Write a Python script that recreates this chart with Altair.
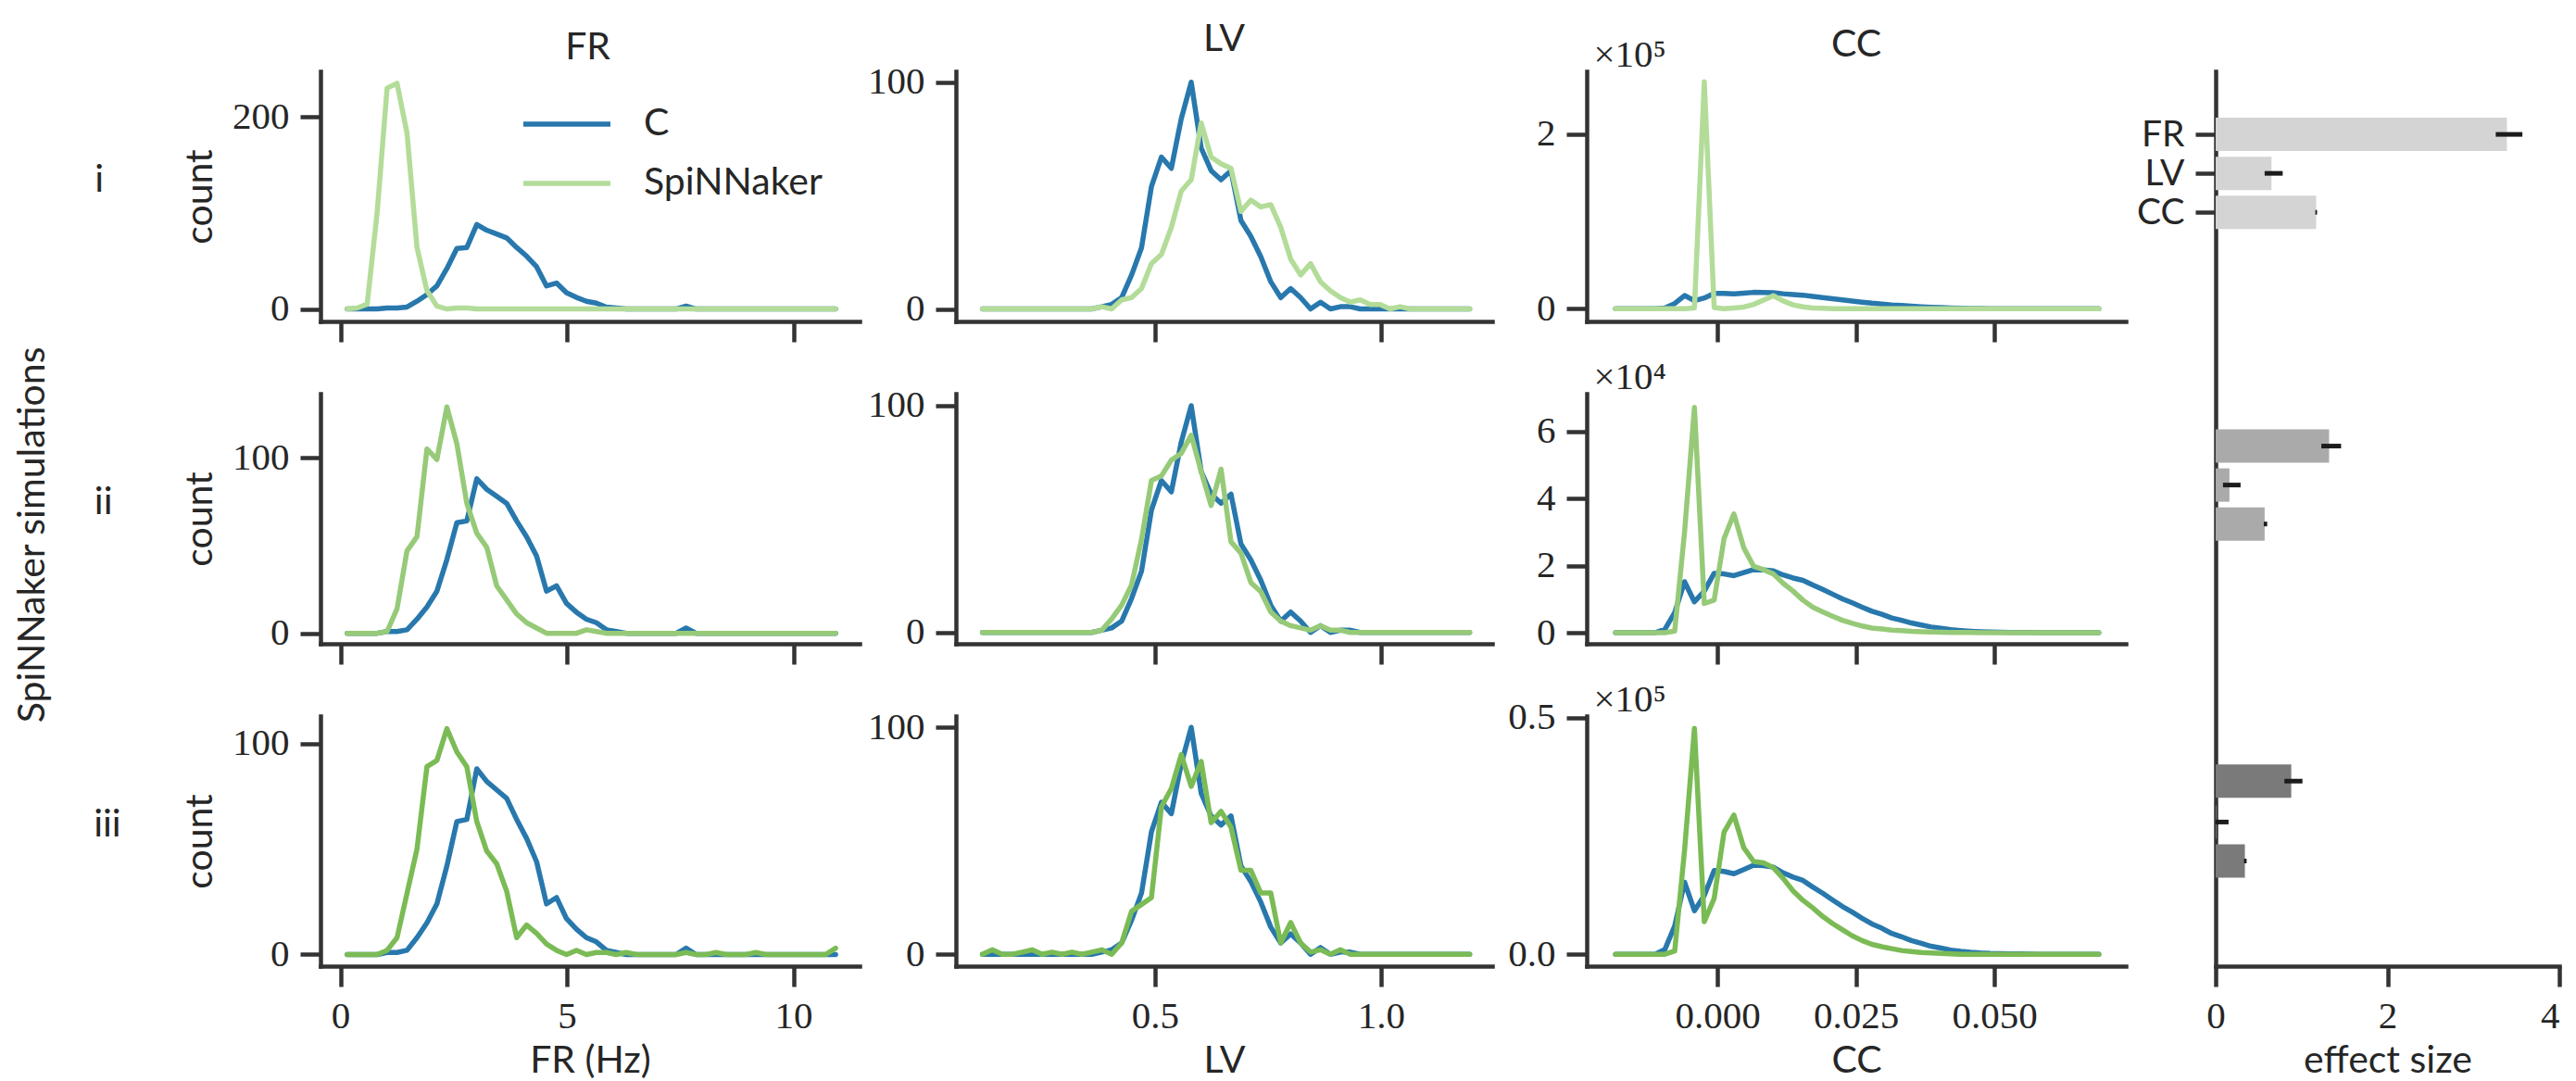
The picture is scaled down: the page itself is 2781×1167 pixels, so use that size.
import altair as alt
import pandas as pd

# ---------------- data ----------------
ROWS = ["i", "ii", "iii"]

FR_X = [0.15, 0.37, 0.59, 0.81, 1.03, 1.25, 1.47, 1.69, 1.91, 2.13, 2.35, 2.57, 2.79, 3.01, 3.23,
        3.45, 3.67, 3.89, 4.11, 4.33, 4.55, 4.77, 4.99, 5.21, 5.43, 5.65, 5.87, 6.09, 6.31, 6.53,
        6.75, 6.97, 7.19, 7.41, 7.63, 7.85, 8.07, 8.29, 8.51, 8.73, 8.95, 9.17, 9.39, 9.61, 9.83,
        10.05, 10.27, 10.49, 10.71, 10.93]
FR_C = [0, 0, 0, 0, 1, 1, 2, 8, 15, 24, 42, 63, 64, 88, 82, 78, 74, 64, 55, 44, 24, 27, 17, 12, 8,
        6, 2, 1, 0, 0, 0, 0, 0, 0, 3, 0, 0, 0, 0, 0, 0, 0, 0, 0, 0, 0, 0, 0, 0, 0]
FR_S_I = [0, 1, 5, 100, 230, 235, 183, 64, 19, 3, 0, 1, 1, 0, 0, 0, 0, 0, 0, 0, 0, 0, 0, 0, 0,
          0, 0, 0, 0, 0, 0, 0, 0, 0, 0, 0, 0, 0, 0, 0, 0, 0, 0, 0, 0, 0, 0, 0, 0, 0]
FR_S_II = [0, 0, 0, 0, 1, 14, 47, 55, 105, 99, 129, 108, 74, 57, 49, 27, 19, 11, 6, 3, 0, 0, 0, 0, 2,
           1, 0, 0, 0, 0, 0, 0, 0, 0, 0, 0, 0, 0, 0, 0, 0, 0, 0, 0, 0, 0, 0, 0, 0, 0]
FR_S_III = [0, 0, 0, 0, 2, 8, 29, 50, 89, 92, 107, 96, 89, 63, 49, 43, 30, 8, 14, 10, 5, 2, 0, 2, 0,
            1, 1, 0, 1, 0, 0, 0, 0, 0, 1, 0, 0, 1, 0, 0, 0, 1, 0, 0, 0, 0, 0, 0, 0, 3]

LV_X = [0.118, 0.140, 0.162, 0.184, 0.206, 0.228, 0.250, 0.272, 0.294, 0.316, 0.338, 0.360, 0.382,
        0.404, 0.426, 0.448, 0.470, 0.492, 0.514, 0.536, 0.558, 0.580, 0.602, 0.624, 0.646, 0.668,
        0.690, 0.712, 0.734, 0.756, 0.778, 0.800, 0.822, 0.844, 0.866, 0.888, 0.910, 0.932, 0.954,
        0.976, 0.998, 1.020, 1.042, 1.064, 1.086, 1.108, 1.130, 1.152, 1.174, 1.196]
LV_C = [0, 0, 0, 0, 0, 0, 0, 0, 0, 0, 0, 0, 1, 2, 5, 15, 27, 54, 67, 62, 84, 100, 71, 61, 57, 61,
        39, 32, 23, 12, 5, 9, 5, 0, 3, 0, 1, 1, 0, 0, 0, 0, 0, 0, 0, 0, 0, 0, 0, 0]
LV_S_I = [0, 0, 0, 0, 0, 0, 0, 0, 0, 0, 0, 0, 1, 0, 4, 5, 9, 20, 24, 36, 52, 57, 82, 67, 64, 62,
          43, 48, 45, 46, 36, 22, 15, 20, 12, 8, 5, 3, 4, 2, 2, 0, 1, 0, 0, 0, 0, 0, 0, 0]
LV_S_II = [0, 0, 0, 0, 0, 0, 0, 0, 0, 0, 0, 0, 1, 6, 12, 21, 41, 67, 69, 76, 79, 87, 71, 56, 72, 40,
           35, 22, 18, 9, 5, 3, 2, 1, 3, 1, 1, 0, 0, 0, 0, 0, 0, 0, 0, 0, 0, 0, 0, 0]
LV_S_III = [0, 2, 0, 0, 1, 2, 0, 1, 0, 1, 0, 1, 2, 0, 5, 19, 22, 25, 65, 73, 88, 74, 85, 58, 63, 56,
            37, 37, 27, 27, 5, 14, 5, 1, 2, 0, 2, 0, 0, 0, 0, 0, 0, 0, 0, 0, 0, 0, 0, 0]

CC_X = [-0.01840, -0.01662, -0.01484, -0.01306, -0.01128, -0.00950, -0.00772, -0.00594, -0.00416,
        -0.00238, -0.00060, 0.00118, 0.00296, 0.00474, 0.00652, 0.00830, 0.01008, 0.01186, 0.01364,
        0.01542, 0.01720, 0.01898, 0.02076, 0.02254, 0.02432, 0.02610, 0.02788, 0.02966, 0.03144,
        0.03322, 0.03500, 0.03678, 0.03856, 0.04034, 0.04212, 0.04390, 0.04568, 0.04746, 0.04924,
        0.05102, 0.05280, 0.05458, 0.05636, 0.05814, 0.05992, 0.06170, 0.06348, 0.06526, 0.06704,
        0.06882]
# counts in units of 1e4
CC_C = [0, 0, 0, 0, 0, 0.1, 0.6, 1.52, 0.92, 1.24, 1.77, 1.75, 1.70, 1.79, 1.88, 1.87, 1.84, 1.72,
        1.63, 1.56, 1.42, 1.29, 1.15, 1.01, 0.89, 0.76, 0.64, 0.55, 0.44, 0.37, 0.29, 0.23, 0.17,
        0.13, 0.09, 0.065, 0.045, 0.03, 0.02, 0.015, 0.01, 0.008, 0.005, 0, 0, 0, 0, 0, 0, 0]
CC_S_I = [0, 0, 0, 0, 0, 0, 0, 0, 0.1, 26, 0.15, 0, 0.1, 0.2, 0.5, 1.0, 1.5, 0.9, 0.45, 0.22, 0.1,
          0.05, 0.02, 0, 0, 0, 0, 0, 0, 0, 0, 0, 0, 0, 0, 0, 0, 0, 0, 0, 0, 0, 0, 0, 0, 0, 0, 0, 0, 0]
CC_S_II = [0, 0, 0, 0, 0, 0, 0.05, 3.0, 6.71, 0.87, 0.97, 2.8, 3.54, 2.53, 1.98, 1.88, 1.75, 1.47,
           1.24, 0.97, 0.76, 0.62, 0.49, 0.37, 0.28, 0.2, 0.14, 0.11, 0.08, 0.06, 0.04, 0.03, 0.02,
           0.015, 0.01, 0.008, 0.005, 0, 0, 0, 0, 0, 0, 0, 0, 0, 0, 0, 0, 0]
CC_S_III = [0, 0, 0, 0, 0, 0, 0.07, 2.2, 4.77, 0.69, 1.18, 2.58, 2.94, 2.25, 1.96, 1.93, 1.83, 1.6,
            1.34, 1.14, 0.98, 0.8, 0.65, 0.52, 0.39, 0.29, 0.21, 0.16, 0.12, 0.08, 0.06, 0.04, 0.03,
            0.02, 0.01, 0, 0, 0, 0, 0, 0, 0, 0, 0, 0, 0, 0, 0, 0, 0]
CC_DIV = [10, 1, 10]            # 1e4-units -> axis units (x1e5, x1e4, x1e5)
CC_EXP = ["×10⁵", "×10⁴", "×10⁵"]

BAR_ROW = ["i", "i", "i", "ii", "ii", "ii", "iii", "iii", "iii"]
BAR_METRIC = ["FR", "LV", "CC", "FR", "LV", "CC", "FR", "LV", "CC"]
BAR_POS = [1.5, 2.5, 3.5, 9.5, 10.5, 11.5, 18.1, 19.15, 20.15]
BAR_VALUE = [3.39, 0.65, 1.17, 1.32, 0.16, 0.57, 0.88, 0.01, 0.34]
BAR_LO = [3.26, 0.57, 1.16, 1.23, 0.085, 0.56, 0.80, 0.0, 0.33]
BAR_HI = [3.57, 0.78, 1.18, 1.46, 0.29, 0.60, 1.01, 0.15, 0.36]

# ---------------- style ----------------
BLUE = "#2878ad"
GREENS = ["#b3dc99", "#97ca78", "#7bbb55"]
BAR_COLORS = ["#d4d4d4", "#aaaaaa", "#7a7a7a"]
TEXT = "#262626"
AXC = "#333333"
SANS = "Lato"
SERIF = "Liberation Serif"
FS = 41
W, H, VS = 582, 270, 78
LW = 5.5


def line_panel(xs, c, s, green, xdom, ydom, xvals, xfmt, yvals, yfmt, bottom, xtitle,
               yaxis_kw, legend=None, title=None, width=W):
    df = pd.DataFrame({
        "x": list(xs) + list(xs),
        "y": list(c) + list(s),
        "series": ["C"] * len(xs) + ["SpiNNaker"] * len(xs),
    })
    if bottom:
        xaxis = alt.Axis(values=xvals, format=xfmt, title=xtitle, titlePadding=8)
    else:
        xaxis = alt.Axis(values=xvals, labels=False, title=None)
    yaxis = alt.Axis(values=yvals, format=yfmt, **yaxis_kw)
    ch = alt.Chart(df).mark_line(strokeWidth=LW, strokeCap="round", strokeJoin="round").encode(
        x=alt.X("x:Q", scale=alt.Scale(domain=xdom, nice=False, zero=False), axis=xaxis),
        y=alt.Y("y:Q", scale=alt.Scale(domain=ydom, nice=False, zero=False), axis=yaxis),
        color=alt.Color("series:N",
                        scale=alt.Scale(domain=["C", "SpiNNaker"], range=[BLUE, green]),
                        legend=legend),
    ).properties(width=width, height=H)
    if title is not None:
        ch = ch.properties(title=title)
    return ch


def indep(ch):
    return ch.resolve_scale(x="independent", y="independent", color="independent")


# ---------- FR column ----------
FR_S = [FR_S_I, FR_S_II, FR_S_III]
FR_YDOM = [[-13, 247.5], [-6, 136.5], [-5.5, 113]]
FR_YVALS = [[0, 200], [0, 100], [0, 100]]
ROW_OFF = [83.3, 74.0, 64.8]

legend_fr = alt.Legend(title=None, orient="none", legendX=245.5, legendY=36.5,
                       symbolType="M-4.7,0L4.7,0", symbolSize=400, symbolStrokeWidth=LW,
                       labelFont=SANS, labelFontSize=FS, labelColor=TEXT, labelOffset=62.5,
                       labelLimit=500, rowPadding=22, padding=0)

fr_panels = []
for r in range(3):
    t = alt.TitleParams(text=ROWS[r], orient="left", angle=0, align="left", baseline="middle",
                        anchor="middle", frame="group", offset=ROW_OFF[r], dy=-17,
                        font=SANS, fontSize=FS, fontWeight="normal", color=TEXT)
    fr_panels.append(line_panel(
        FR_X, FR_C, FR_S[r], GREENS[r], [-0.44, 11.46], FR_YDOM[r], [0, 5, 10], "d",
        FR_YVALS[r], "d", r == 2, "FR (Hz)", dict(title="count", titlePadding=13),
        legend=legend_fr if r == 0 else None, title=t))

fr_col = indep(alt.vconcat(*fr_panels, spacing=VS, bounds="flush",
                           title=alt.TitleParams("FR", anchor="middle", offset=4, dx=120)))

# ---------- LV column ----------
LV_S = [LV_S_I, LV_S_II, LV_S_III]
LV_YDOM = [[-5.5, 104.8], [-5, 105.3], [-5.2, 105]]
lv_panels = []
for r in range(3):
    t = alt.TitleParams("LV", anchor="middle", frame="group", offset=4) if r == 0 else None
    lv_panels.append(line_panel(
        LV_X, LV_C, LV_S[r], GREENS[r], [0.0594, 1.246], LV_YDOM[r], [0.5, 1.0], ".1f",
        [0, 100], "d", r == 2, "LV", dict(title=None), title=t, width=579))
lv_col = indep(alt.vconcat(*lv_panels, spacing=VS, bounds="flush"))

# ---------- CC column ----------
CC_S = [CC_S_I, CC_S_II, CC_S_III]
CC_YDOM = [[-0.145, 2.72], [-0.33, 7.12], [-0.025, 0.503]]
CC_YVALS = [[0, 2], [0, 2, 4, 6], [0, 0.5]]
CC_YFMT = ["d", "d", ".1f"]
cc_panels = []
for r in range(3):
    t = alt.TitleParams("CC", anchor="middle", frame="group", offset=-32) if r == 0 else None
    c_vals = [v / CC_DIV[r] for v in CC_C]
    s_vals = [v / CC_DIV[r] for v in CC_S[r]]
    ykw = dict(title=CC_EXP[r], titleAngle=0, titleAlign="left", titleBaseline="alphabetic",
               titleX=7, titleY=-6, titleFont=SERIF, titleFontSize=FS)
    cc_panels.append(line_panel(
        CC_X, c_vals, s_vals, GREENS[r], [-0.0236, 0.0737], CC_YDOM[r], [0, 0.025, 0.05], ".3f",
        CC_YVALS[r], CC_YFMT[r], r == 2, "CC", ykw, title=t))
cc_col = indep(alt.vconcat(*cc_panels, spacing=VS, bounds="flush"))

# ---------- effect size bars ----------
bar_df = pd.DataFrame({"row": BAR_ROW, "metric": BAR_METRIC, "pos": BAR_POS,
                       "value": BAR_VALUE, "lo": BAR_LO, "hi": BAR_HI})
ysc = alt.Scale(domain=[0, 22.73], reverse=True, nice=False, zero=False)
bars = alt.Chart(bar_df).mark_bar(orient="horizontal", size=36).encode(
    x=alt.X("value:Q", scale=alt.Scale(domain=[0, 4], nice=False),
            axis=alt.Axis(values=[0, 2, 4], format="d", title="effect size", titlePadding=8,
                          labelAlign={"condition": {"test": "datum.value == 4", "value": "right"},
                                      "value": "center"})),
    y=alt.Y("pos:Q", scale=ysc,
            axis=alt.Axis(values=[1.5, 2.5, 3.5], title=None, labelFont=SANS, labelFontSize=39,
                          labelExpr="datum.value < 2 ? 'FR' : (datum.value < 3 ? 'LV' : 'CC')")),
    color=alt.Color("row:N", scale=alt.Scale(domain=ROWS, range=BAR_COLORS), legend=None),
)
errs = alt.Chart(bar_df).mark_rule(strokeWidth=5, color="#1c1c1c").encode(
    x="lo:Q", x2="hi:Q", y=alt.Y("pos:Q", scale=ysc))
bar_chart = alt.layer(bars, errs).properties(
    width=371, height=966, title=alt.TitleParams(" ", offset=4))

# ---------- assemble ----------
left = indep(alt.hconcat(fr_col, lv_col, spacing=8))
mid = indep(alt.hconcat(left, cc_col, spacing=16))
chart = indep(alt.hconcat(mid, bar_chart, spacing=11)).properties(
    title=alt.TitleParams("SpiNNaker simulations", orient="left", anchor="middle",
                          offset=44, dx=16),
    padding={"left": 7, "top": 13, "right": 0, "bottom": 0},
).configure_view(stroke=None).configure_axis(
    domainColor=AXC, domainWidth=4.5, domainCap="square", tickColor=AXC, tickWidth=4.5,
    tickSize=22, labelPadding=12, labelFont=SERIF, labelFontSize=FS, labelColor=TEXT,
    titleFont=SANS, titleFontSize=FS, titleFontWeight="normal", titleColor=TEXT,
    grid=False, labelFlush=False, labelOverlap=False,
).configure_title(font=SANS, fontSize=FS, fontWeight="normal", color=TEXT)

chart.save("out.html", embed_options={"renderer": "svg", "actions": False})
